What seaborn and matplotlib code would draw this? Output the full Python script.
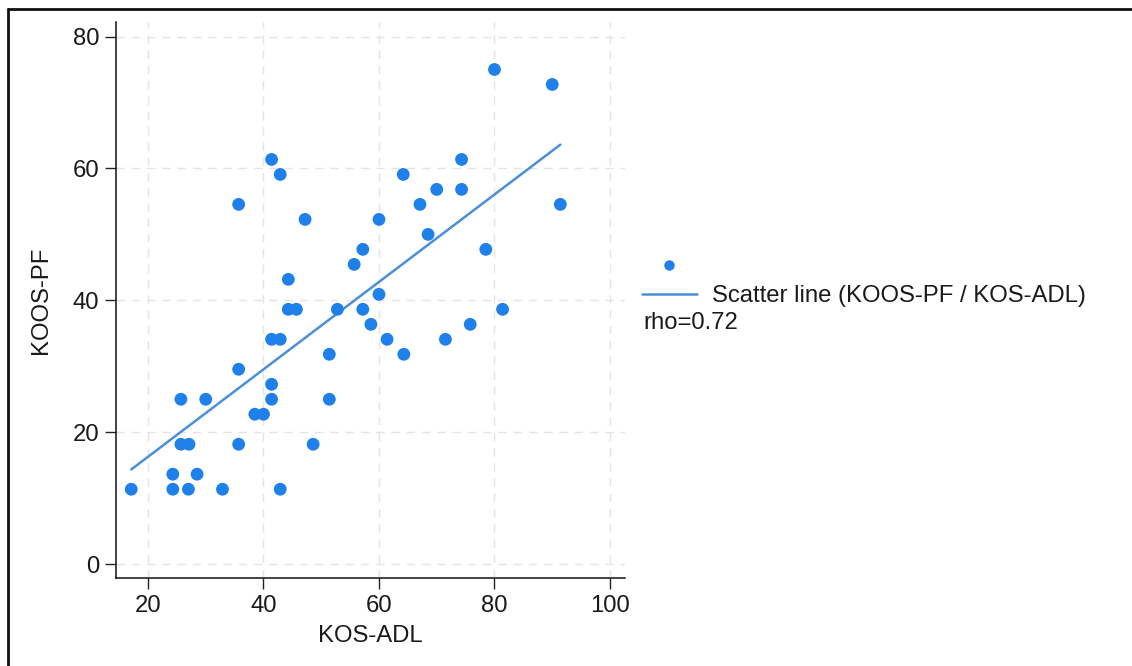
import numpy as np
import pandas as pd
import matplotlib
matplotlib.use("Agg")
import matplotlib.pyplot as plt
from matplotlib.lines import Line2D
import seaborn as sns

# ---- data ----
kos_adl = [17.1, 24.3, 27.0, 32.9, 42.9, 24.3, 28.5, 25.7, 27.1, 35.7,
           48.6, 38.5, 40.0, 25.7, 30.0, 41.4, 51.4, 41.4, 35.7, 51.4,
           64.3, 41.4, 42.9, 61.4, 71.5, 58.6, 75.8, 44.3, 45.7, 52.8,
           57.2, 81.4, 60.0, 44.3, 55.7, 57.2, 78.5, 68.5, 47.2, 60.0,
           35.7, 67.1, 91.4, 70.0, 74.3, 42.9, 64.2, 41.4, 74.3, 90.0,
           80.0]
koos_pf = [11.36, 11.36, 11.36, 11.36, 11.36, 13.64, 13.64, 18.18, 18.18, 18.18,
           18.18, 22.73, 22.73, 25.00, 25.00, 25.00, 25.00, 27.27, 29.55, 31.82,
           31.82, 34.09, 34.09, 34.09, 34.09, 36.36, 36.36, 38.64, 38.64, 38.64,
           38.64, 38.64, 40.91, 43.18, 45.45, 47.73, 47.73, 50.00, 52.27, 52.27,
           54.55, 54.55, 54.55, 56.82, 56.82, 59.09, 59.09, 61.36, 61.36, 72.73,
           75.00]
x_ticks = [20, 40, 60, 80, 100]
y_ticks = [0, 20, 40, 60, 80]
legend_label = "Scatter line (KOOS-PF / KOS-ADL)"
rho_text = "rho=0.72"
x_label = "KOS-ADL"
y_label = "KOOS-PF"

df = pd.DataFrame({"KOS-ADL": kos_adl, "KOOS-PF": koos_pf})

sns.set_style("white")
plt.rcParams["font.family"] = ["Liberation Sans", "DejaVu Sans"]
txt_color = "#1a1a1a"
plt.rcParams["text.color"] = txt_color
plt.rcParams["axes.labelcolor"] = txt_color
plt.rcParams["xtick.color"] = txt_color
plt.rcParams["ytick.color"] = txt_color

FS = 17.2
W, H = 1132, 666
fig = plt.figure(figsize=(W / 100, H / 100), dpi=100)
ax = fig.add_axes([116 / W, (H - 578) / H, (625 - 116) / W, (578 - 22) / H])

dot_color = "#1f80ea"
line_color = "#4a8fd8"

sns.scatterplot(data=df, x="KOS-ADL", y="KOOS-PF", ax=ax, color=dot_color,
                s=85, edgecolor="none", linewidth=0, zorder=3)
sns.regplot(data=df, x="KOS-ADL", y="KOOS-PF", ax=ax, scatter=False, ci=None,
            color=line_color, line_kws={"linewidth": 1.8, "zorder": 2})

ax.set_xlim(14.46, 102.6)
ax.set_ylim(-2.1, 82.2)
ax.set_xticks(x_ticks)
ax.set_yticks(y_ticks)
ax.set_xlabel(x_label, fontsize=FS, labelpad=6)
ax.set_ylabel(y_label, fontsize=FS, labelpad=15)
ax.tick_params(axis="both", labelsize=FS, length=8, width=1, color="#222222",
               direction="out", pad=4, left=True, bottom=True)
for side in ["top", "right"]:
    ax.spines[side].set_visible(False)
for side in ["left", "bottom"]:
    ax.spines[side].set_color("#111111")
    ax.spines[side].set_linewidth(1.1)
ax.grid(True, linestyle=(0, (6, 5)), color="#e4e4e4", linewidth=1.0)
ax.set_axisbelow(True)

# legend
dot_handle = Line2D([], [], marker="o", linestyle="none", color=dot_color,
                    markersize=7.5, markeredgewidth=0)
line_handle = Line2D([], [], color=line_color, linewidth=1.8)
fig.legend([dot_handle, line_handle], ["", legend_label],
           loc="upper left", bbox_to_anchor=(642 / W, 1 - 256 / H),
           frameon=False, fontsize=FS, handlelength=2.3, handletextpad=0.65,
           labelspacing=0.3, borderpad=0, borderaxespad=0)
fig.text(643 / W, 1 - 323 / H, rho_text, fontsize=FS, ha="left", va="center")

# outer frame (top and left edges visible)
fig.add_artist(Line2D([8 / W, 1], [1 - 9 / H, 1 - 9 / H], color="#111111",
                      linewidth=2, transform=fig.transFigure))
fig.add_artist(Line2D([8 / W, 8 / W], [1 - 9 / H, 0], color="#111111",
                      linewidth=2, transform=fig.transFigure))

fig.savefig("out.png", dpi=100)
